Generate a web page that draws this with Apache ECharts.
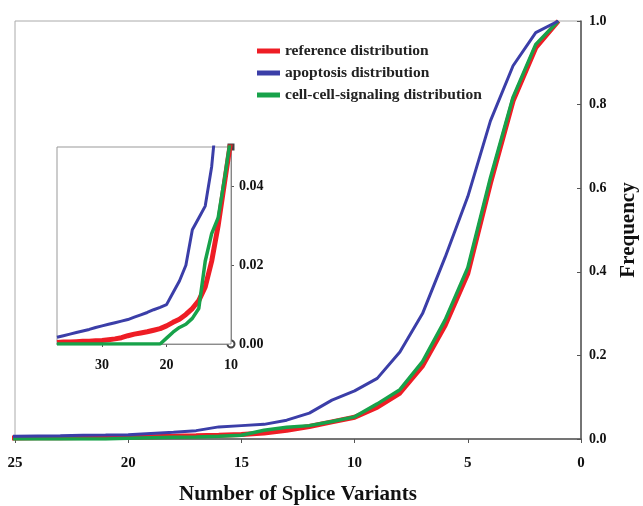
<!DOCTYPE html>
<html>
<head>
<meta charset="utf-8">
<script src="https://cdn.jsdelivr.net/npm/echarts@6/dist/echarts.min.js"></script>
<style>html,body{margin:0;padding:0;background:#fff}#c{width:643px;height:506px}</style>
</head>
<body>
<div id="c"></div>
<script>
// Number of splice variants (x)
var variants = [1,2,3,4,5,6,7,8,9,10,11,12,13,14,15,16,17,18,19,20,21,22,23,24,25,26,27,28,29,30,31,32,33,34,35,36,37];
// Cumulative frequencies
var referenceDist = [1.0,0.936,0.809,0.612,0.396,0.272,0.175,0.11,0.076,0.052,0.041,0.030,0.021,0.0145,0.011,0.009,0.0075,0.0063,0.0055,0.0046,0.0039,0.0035,0.0031,0.0028,0.0025,0.0021,0.0016,0.0013,0.0011,0.0009,0.0008,0.0007,0.0007,0.0006,0.0005,0.0005,0.0004];
var apoptosisDist = [1.0,0.972,0.893,0.761,0.58,0.435,0.30,0.208,0.145,0.115,0.093,0.062,0.045,0.035,0.032,0.029,0.020,0.016,0.013,0.010,0.0093,0.0087,0.0080,0.0074,0.0068,0.0062,0.0058,0.0054,0.0050,0.0046,0.0042,0.0037,0.0033,0.0029,0.0025,0.0021,0.0017];
var cellSignalingDist = [1.0,0.944,0.818,0.625,0.41,0.285,0.185,0.118,0.084,0.053,0.042,0.032,0.028,0.021,0.009,0.0065,0.005,0.0042,0.003,0.0015,0,0,0,0,0,0,0,0,0,0,0,0,0,0,0,0,0];
var seriesNames = ['reference distribution','apoptosis distribution','cell-cell-signaling distribution'];
var mainXTicks = [0,5,10,15,20,25];
var mainYTicks = [0,0.2,0.4,0.6,0.8,1.0];
var insetXTicks = [10,20,30];
var insetYTicks = [0,0.02,0.04];

function pairs(ys){ return variants.map(function(v,i){ return [v, ys[i]]; }); }
var colors = ['#ee1d25','#3b3ea8','#17a24a'];
var widths = [5,3,3.5];
var dists = [referenceDist, apoptosisDist, cellSignalingDist];

var FONT = 'Liberation Serif';
var lbl = {fontFamily: FONT, fontWeight: 'bold', color: '#111'};

var series = [];
[0,1].forEach(function(g){
  dists.forEach(function(d,k){
    series.push({
      name: seriesNames[k], type: 'line', xAxisIndex: g, yAxisIndex: g,
      data: pairs(d), showSymbol: false, symbol: 'none', clip: true,
      lineStyle: {color: colors[k], width: widths[k]},
      itemStyle: {color: colors[k]}, z: 2 + g*3 + (k===1?1:0), silent: true, animation: false
    });
  });
});

var chart = echarts.init(document.getElementById('c'), null, {renderer: 'canvas'});
chart.setOption({
  animation: false,
  backgroundColor: '#fff',
  legend: {
    data: seriesNames.map(function(n,k){ return {name: n, icon: 'rect', itemStyle: {color: colors[k]}}; }),
    orient: 'vertical', left: 252, top: 38, itemWidth: 23, itemHeight: 5, itemGap: 6,
    textStyle: {fontFamily: FONT, fontWeight: 'bold', fontSize: 15.5, color: '#222'},
    selectedMode: false
  },
  grid: [
    {left: 15, right: 62, top: 21, bottom: 67, outerBoundsMode: 'none', containLabel: false, show: true, borderColor: '#aaa', borderWidth: 1, backgroundColor: 'transparent', z: 0},
    {left: 57, right: 412, top: 147, bottom: 162, outerBoundsMode: 'none', containLabel: false, show: true, borderColor: '#999', borderWidth: 1, backgroundColor: '#fff', z: 3}
  ],
  xAxis: [
    {type: 'value', gridIndex: 0, min: 0, max: 25, interval: 5, inverse: true,
     name: 'Number of Splice Variants', nameLocation: 'middle', nameGap: 45,
     nameTextStyle: {fontFamily: FONT, fontWeight: 'bold', fontSize: 21, color: '#111'},
     axisLine: {lineStyle: {color: '#555', width: 1.5}},
     axisTick: {show: true, length: 4, lineStyle: {color: '#555'}},
     axisLabel: Object.assign({fontSize: 15, margin: 17}, lbl), splitLine: {show: false}},
    {type: 'value', gridIndex: 1, min: 10, max: 37, interval: 10, inverse: true,
     axisLine: {lineStyle: {color: '#555', width: 1.5}},
     axisTick: {show: true, length: 3, lineStyle: {color: '#555'}},
     axisLabel: Object.assign({fontSize: 14, margin: 14, showMaxLabel: false}, lbl), splitLine: {show: false}}
  ],
  yAxis: [
    {type: 'value', gridIndex: 0, position: 'right', min: 0, max: 1, interval: 0.2,
     name: 'Frequency', nameLocation: 'middle', nameGap: 37, nameRotate: 90,
     nameTextStyle: {fontFamily: FONT, fontWeight: 'bold', fontSize: 21, color: '#111'},
     axisLine: {show: true, lineStyle: {color: '#555', width: 1.5}},
     axisTick: {show: true, inside: true, length: 4, lineStyle: {color: '#555'}},
     axisLabel: Object.assign({fontSize: 14, margin: 8, formatter: function(v){ return v.toFixed(1); }}, lbl),
     splitLine: {show: false}},
    {type: 'value', gridIndex: 1, position: 'right', min: 0, max: 0.05, interval: 0.02,
     axisLine: {show: true, symbol: ['emptyCircle','rect'], symbolSize: [7,7], lineStyle: {color: '#444', width: 1.5}},
     axisTick: {show: true, length: 3, lineStyle: {color: '#555'}},
     axisLabel: Object.assign({fontSize: 14, margin: 8, showMaxLabel: false, formatter: function(v){ return v.toFixed(2); }}, lbl),
     splitLine: {show: false}}
  ],
  series: series
});
</script>
</body>
</html>
